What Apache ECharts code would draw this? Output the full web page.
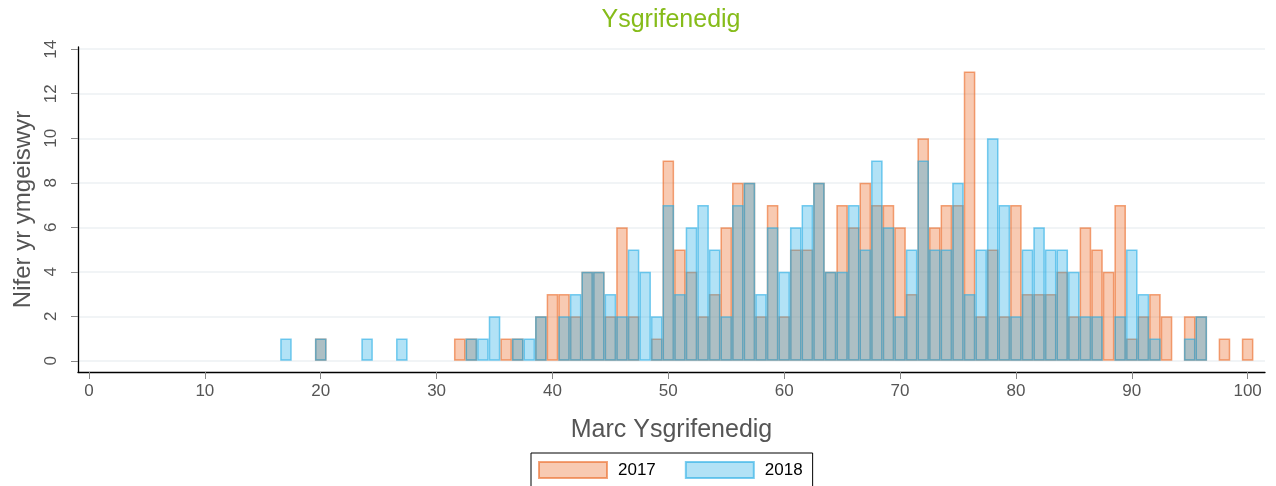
<!DOCTYPE html>
<html>
<head>
<meta charset="utf-8">
<title>Ysgrifenedig</title>
<script src="https://cdn.jsdelivr.net/npm/echarts@6.0.0/dist/echarts.min.js"></script>
<style>
  html, body { margin: 0; padding: 0; background: #fff; }
  #hist { width: 1276px; height: 486px; }
</style>
</head>
<body>
<div id="hist"></div>
<script>
// marciau 17..100, un golofn i bob marc
var firstMark = 17;
var count2017 = [
  0, 0, 0, 1, 0, 0, 0, 0, 0, 0, 0, 0, 0, 0, 0, 1, 1, 0, 0, 1,   // 17-36
  1, 0, 2, 3, 3, 2, 4, 4, 2, 6, 2, 0, 1, 9, 5, 4, 2, 3, 6, 8,   // 37-56
  8, 2, 7, 2, 5, 5, 8, 4, 7, 6, 8, 7, 7, 6, 3, 10, 6, 7, 7, 13, // 57-76
  2, 5, 2, 7, 3, 3, 3, 4, 2, 6, 5, 4, 7, 1, 2, 3, 2, 0, 2, 2,   // 77-96
  0, 1, 0, 1                                                    // 97-100
];
var count2018 = [
  1, 0, 0, 1, 0, 0, 0, 1, 0, 0, 1, 0, 0, 0, 0, 0, 1, 1, 2, 0,   // 17-36
  1, 1, 2, 0, 2, 3, 4, 4, 3, 2, 5, 4, 2, 7, 3, 6, 7, 5, 2, 7,   // 37-56
  8, 3, 6, 4, 6, 7, 8, 4, 4, 7, 5, 9, 6, 2, 5, 9, 5, 5, 8, 3,   // 57-76
  5, 10, 7, 2, 5, 6, 5, 5, 4, 2, 2, 0, 2, 5, 3, 1, 0, 0, 1, 2,  // 77-96
  0, 0, 0, 0                                                    // 97-100
];
var seriesNames = ["2017", "2018"];
var xTicks = [0, 10, 20, 30, 40, 50, 60, 70, 80, 90, 100];
var yTicks = [0, 2, 4, 6, 8, 10, 12, 14];

function toPairs(counts) {
  var res = [];
  for (var i = 0; i < counts.length; i++) {
    if (counts[i] > 0) res.push([firstMark + i, counts[i]]);
  }
  return res;
}

var font = "Liberation Sans, Arial, sans-serif";
var myChart = echarts.init(document.getElementById("hist"));

var option = {
  animation: false,
  backgroundColor: "#fff",
  title: {
    text: "Ysgrifenedig",
    left: 666,
    top: 3,
    textAlign: "center",
    textStyle: { color: "#86bc1a", fontSize: 25, fontWeight: "normal", fontFamily: font }
  },
  legend: {
    data: seriesNames,
    left: 531,
    top: 453,
    icon: "rect",
    itemWidth: 68,
    itemHeight: 16,
    itemGap: 29,
    padding: [8, 10, 9, 7],
    borderColor: "#000",
    borderWidth: 1,
    textStyle: { color: "#000", fontSize: 17, fontFamily: font, padding: [0, 0, 0, 6] }
  },
  grid: {
    left: 78,
    right: 11,
    top: 47,
    bottom: 114,
    containLabel: false,
    outerBoundsMode: "none"
  },
  xAxis: {
    type: "value",
    min: -0.95,
    max: 101.5,
    name: "Marc Ysgrifenedig",
    nameLocation: "middle",
    nameGap: 46,
    nameTextStyle: { color: "#555", fontSize: 25, fontFamily: font },
    axisLine: { onZero: false, lineStyle: { color: "#000", width: 1.3 } },
    axisTick: { customValues: xTicks, length: 7, lineStyle: { color: "#888" } },
    axisLabel: { customValues: xTicks, margin: 11, color: "#555", fontSize: 17, fontFamily: font },
    splitLine: { show: false }
  },
  yAxis: {
    type: "value",
    min: -0.5,
    max: 14.1,
    name: "Nifer yr ymgeiswyr",
    nameLocation: "middle",
    nameGap: 42,
    nameTextStyle: { color: "#555", fontSize: 24, fontFamily: font },
    axisLine: { show: true, onZero: false, lineStyle: { color: "#000", width: 1.3 } },
    axisTick: { show: true, customValues: yTicks, length: 7, lineStyle: { color: "#888" } },
    axisLabel: { customValues: yTicks, rotate: 90, margin: 18, color: "#555", fontSize: 17, fontFamily: font },
    splitLine: { show: true, lineStyle: { color: "#edf1f3", width: 1.5 } }
  },
  series: [
    {
      name: seriesNames[0],
      type: "bar",
      data: toPairs(count2017),
      barWidth: 11.6,
      barGap: "-100%",
      itemStyle: {
        color: "rgba(235,104,35,0.35)",
        borderColor: "rgba(235,104,35,0.6)",
        borderWidth: 1.5
      }
    },
    {
      name: seriesNames[1],
      type: "bar",
      data: toPairs(count2018),
      barWidth: 11.6,
      barGap: "-100%",
      itemStyle: {
        color: "rgba(35,172,229,0.35)",
        borderColor: "rgba(35,172,229,0.6)",
        borderWidth: 1.5
      }
    }
  ]
};

myChart.setOption(option);
window.addEventListener("resize", function () {
  myChart.resize();
});
</script>
</body>
</html>
